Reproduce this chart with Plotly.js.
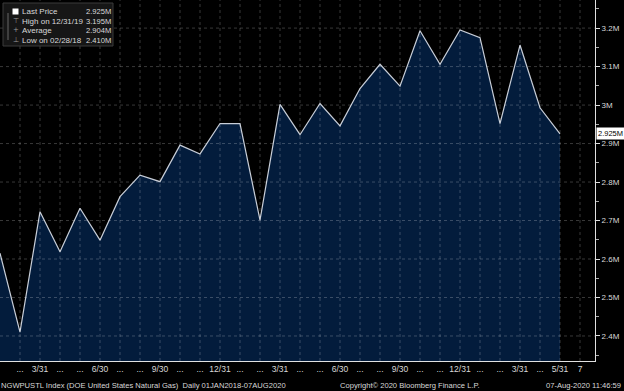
<!DOCTYPE html>
<html><head><meta charset="utf-8">
<script src="https://cdn.plot.ly/plotly-3.0.1.min.js"></script>
<style>html,body{margin:0;padding:0;background:#000;}#chart{width:624px;height:391px;}</style>
</head><body><div id="chart"></div>
<script>
// Month-end observations, Jan 2018 - May 2020
const months = ['2018-01','2018-02','2018-03','2018-04','2018-05','2018-06','2018-07','2018-08','2018-09','2018-10','2018-11','2018-12',
                '2019-01','2019-02','2019-03','2019-04','2019-05','2019-06','2019-07','2019-08','2019-09','2019-10','2019-11','2019-12',
                '2020-01','2020-02','2020-03','2020-04','2020-05'];
const values = [2.615,2.410,2.723,2.619,2.732,2.649,2.762,2.818,2.801,2.896,2.873,2.952,
                2.952,2.701,3.002,2.923,3.004,2.946,3.043,3.106,3.049,3.193,3.106,3.195,
                3.175,2.952,3.156,2.993,2.925];
// x-axis categories incl. one empty month after the data
const axisMonths = months.concat(['2020-06']);
const xTickText = ['','...','3/31','...','...','6/30','...','...','9/30','...','...','12/31',
                   '...','...','3/31','...','...','6/30','...','...','9/30','...','...','12/31',
                   '...','...','3/31','...','5/31','7'];
const yTicks = [2.4,2.5,2.6,2.7,2.8,2.9,3.0,3.1,3.2];
const yTickText = ['2.4M','2.5M','2.6M','2.7M','2.8M','2.9M','3M','3.1M','3.2M'];
const legendLabels = ['Last Price','High on 12/31/19','Average','Low on 02/28/18'];
const legendValues = ['2.925M','3.195M','2.904M','2.410M'];
const legendIcons = ['','\u22A4','+','\u22A5'];
const lastLabel = '2.925M';
const footLeft = 'NGWPUSTL Index (DOE United States Natural Gas)  Daily 01JAN2018-07AUG2020';
const footMid = 'Copyright\u00A9 2020 Bloomberg Finance L.P.';
const footRight = '07-Aug-2020 11:46:59';

const W = 595, H = 361; // plot area px
const px = x => x / W, py = y => 1 - y / H;
const FONT = '"Liberation Sans", Arial, sans-serif';
const txt = '#d8d8d8';
const gridStyle = {color:'rgba(255,255,255,0.22)', width:1, dash:'dot'};

const minorVals = yTicks.map(v => +(v - 0.05).toFixed(2)).concat([3.25]);

const annotations = [];
const shapes = [];
// dotted grid drawn above the filled area (as in the reference)
axisMonths.slice(1).forEach(m => shapes.push({type:'line', xref:'x', yref:'paper', x0:m, x1:m, y0:0, y1:1, line:gridStyle, layer:'above'}));
yTicks.forEach(v => shapes.push({type:'line', xref:'paper', yref:'y', x0:0, x1:1, y0:v, y1:v, line:gridStyle, layer:'above'}));
// legend box
shapes.push({type:'rect', xref:'paper', yref:'paper', x0:px(3), x1:px(113), y0:py(46), y1:py(3),
  fillcolor:'#161616', line:{color:'#3a3a3a', width:1}, layer:'above'});
// tree line
shapes.push({type:'line', xref:'paper', yref:'paper', x0:px(8), x1:px(8), y0:py(40), y1:py(13),
  line:{color:'#666', width:1}, layer:'above'});
// white square marker
shapes.push({type:'rect', xref:'paper', yref:'paper', x0:px(12.5), x1:px(18.5), y0:py(14.5), y1:py(8.5),
  fillcolor:'#ffffff', line:{width:0}, layer:'above'});
const rowY = [11.5, 21, 30.5, 40];
legendLabels.forEach((l, i) => {
  annotations.push({xref:'paper', yref:'paper', x:px(21), y:py(rowY[i]), xanchor:'left', yanchor:'middle',
    text:l, showarrow:false, borderpad:0, font:{family:FONT, size:8, color:txt}});
  annotations.push({xref:'paper', yref:'paper', x:px(111.5), y:py(rowY[i]), xanchor:'right', yanchor:'middle',
    text:legendValues[i], showarrow:false, borderpad:0, font:{family:FONT, size:7.6, color:txt}});
  if (legendIcons[i]) annotations.push({xref:'paper', yref:'paper', x:px(15.5), y:py(rowY[i]), xanchor:'center', yanchor:'middle',
    text:legendIcons[i], showarrow:false, borderpad:0, font:{family:'DejaVu Sans', size:7, color:'#999'}});
});
// last price tag
annotations.push({xref:'paper', yref:'y', x:1, y:values[values.length-1], xanchor:'left', yanchor:'middle', xshift:1,
  text:lastLabel, showarrow:false, bgcolor:'#ffffff', borderpad:1, font:{family:FONT, size:7.5, color:'#000'}});
// footer
annotations.push({xref:'paper', yref:'paper', x:0, y:py(385), xanchor:'left', yanchor:'middle',
  text:footLeft, showarrow:false, borderpad:0, font:{family:FONT, size:7.6, color:txt}});
annotations.push({xref:'paper', yref:'paper', x:px(410), y:py(385), xanchor:'center', yanchor:'middle',
  text:footMid, showarrow:false, borderpad:0, font:{family:FONT, size:7.6, color:txt}});
annotations.push({xref:'paper', yref:'paper', x:px(622), y:py(385), xanchor:'right', yanchor:'middle',
  text:footRight, showarrow:false, borderpad:0, font:{family:FONT, size:7.6, color:txt}});

const trace = {
  x: months, y: values, type:'scatter', mode:'lines',
  line:{color:'#c8ced8', width:1.2},
  fill:'tozeroy', fillcolor:'#031c3c',
  hoverinfo:'skip'
};

const layout = {
  width:624, height:391,
  margin:{l:0, r:29, t:0, b:30, pad:0},
  paper_bgcolor:'#000', plot_bgcolor:'#000',
  showlegend:false,
  xaxis:{
    type:'category', categoryorder:'array', categoryarray:axisMonths,
    range:[0, 29.75],
    tickmode:'array', tickvals:axisMonths, ticktext:xTickText,
    ticks:'', showgrid:false,
    showline:true, linecolor:'#e0e0e0', linewidth:1, zeroline:false,
    tickfont:{family:FONT, size:8.5, color:txt}, tickangle:0
  },
  yaxis:{
    side:'right', range:[2.335, 3.273],
    tickmode:'array', tickvals:yTicks, ticktext:yTickText,
    ticks:'outside', ticklen:4, tickcolor:'#e0e0e0', tickwidth:1,
    minor:{tickmode:'array', tickvals:minorVals, ticks:'outside', ticklen:3, tickcolor:'#aaa', showgrid:false},
    showgrid:false,
    showline:true, linecolor:'#e0e0e0', linewidth:1, zeroline:false,
    tickfont:{family:FONT, size:8, color:txt}
  },
  shapes:shapes, annotations:annotations
};
Plotly.newPlot('chart', [trace], layout, {displayModeBar:false, staticPlot:true});
</script></body></html>
